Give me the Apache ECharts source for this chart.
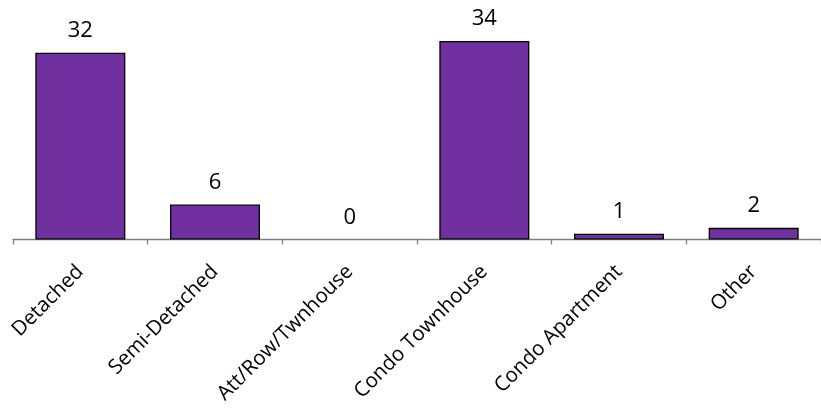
<!DOCTYPE html>
<html><head><meta charset="utf-8">
<script src="https://cdn.jsdelivr.net/npm/echarts@6/dist/echarts.min.js"></script>
<style>html,body{margin:0;padding:0;background:#fff}#c{width:821px;height:411px}</style>
</head><body><div id="c"></div>
<script>
const categories = ["Detached", "Semi-Detached", "Att/Row/Twnhouse", "Condo Townhouse", "Condo Apartment", "Other"];
const values = [32, 6, 0, 34, 1, 2];

const chart = echarts.init(document.getElementById('c'));
chart.setOption({
  animation: false,
  grid: { left: 13, top: 6, width: 813, bottom: 171.5 },
  xAxis: {
    type: 'category', data: categories,
    axisLine: { lineStyle: { color: '#7f7f7f', width: 1.3 } },
    axisTick: { show: true, length: 5, lineStyle: { color: '#7f7f7f', width: 1.3 } },
    axisLabel: { rotate: 45, interval: 0, margin: 29, color: '#000', fontFamily: 'Open Sans', fontSize: 20.5 }
  },
  yAxis: { type: 'value', min: 0, max: 40, show: false, splitLine: { show: false } },
  series: [{
    type: 'bar', barWidth: 90,
    data: values.map(v => ({ value: v, itemStyle: v === 0 ? { borderWidth: 0 } : {} })),
    itemStyle: { color: '#7030A0', borderColor: '#000', borderWidth: 1.3 },
    label: { show: true, position: 'top', distance: 11, color: '#000', fontFamily: 'Open Sans', fontSize: 22 }
  }]
});
</script></body></html>
